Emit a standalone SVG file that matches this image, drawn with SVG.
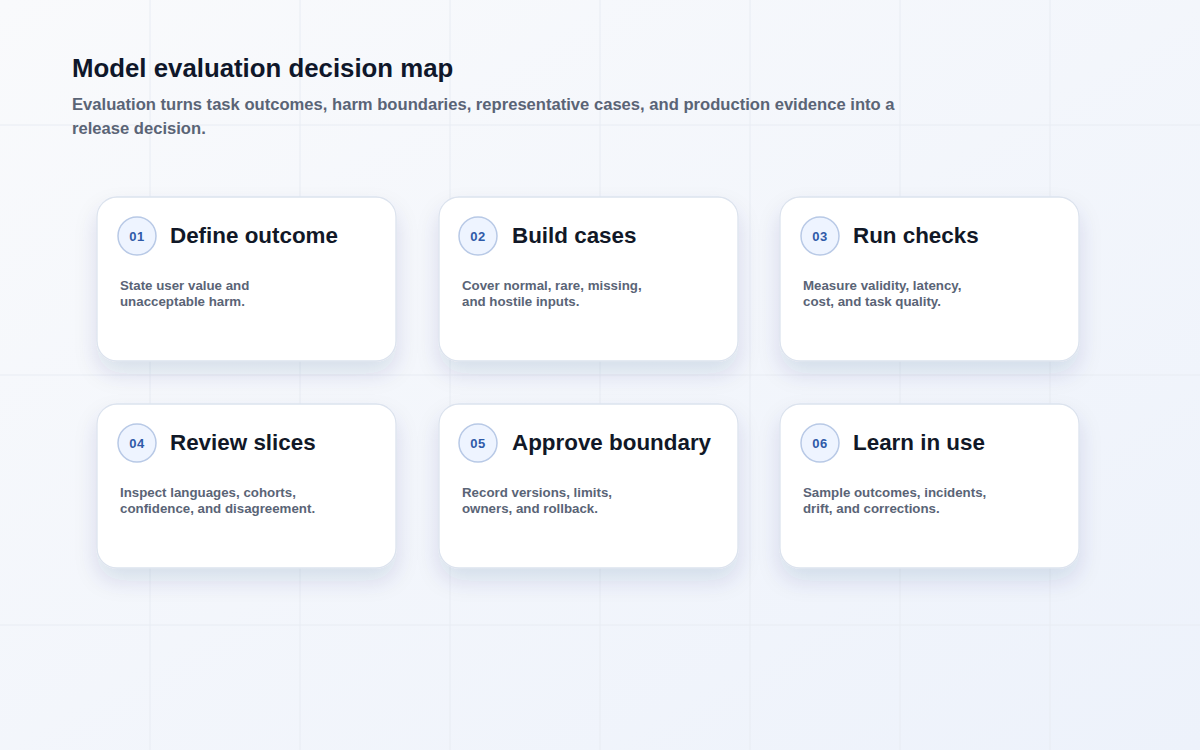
<svg xmlns="http://www.w3.org/2000/svg" width="1200" height="750" viewBox="0 0 1200 750">
  <defs>
    <linearGradient id="bg" x1="0" y1="0" x2="1" y2="1">
      <stop offset="0" stop-color="#f9fafc"/>
      <stop offset="1" stop-color="#edf2fb"/>
    </linearGradient>
    <filter id="shadow" x="-20%" y="-20%" width="140%" height="170%">
      <feDropShadow dx="0" dy="12" stdDeviation="11" flood-color="#1e3a6e" flood-opacity="0.12"/>
    </filter>
    <style>
      .grid { stroke: #e8ecf3; stroke-width: 1; }
      .card { fill: #ffffff; stroke: #dce3ee; stroke-width: 1.3; filter: url(#shadow); }
      .badge { fill: #eef4ff; stroke: #b8c9e6; stroke-width: 1.5; }
      .num { font-family: "Liberation Sans", Arial, sans-serif; font-size: 13px; font-weight: 700; fill: #2f5aa8; text-anchor: middle; letter-spacing: 0.5px; }
      .ttl { font-family: "Liberation Sans", Arial, sans-serif; font-size: 22.4px; font-weight: 700; fill: #111827; }
      .desc { font-family: "Liberation Sans", Arial, sans-serif; font-size: 13.3px; font-weight: 700; fill: #5a6476; }
      .h1 { font-family: "Liberation Sans", Arial, sans-serif; font-size: 25.8px; font-weight: 700; fill: #0f172a; }
      .sub { font-family: "Liberation Sans", Arial, sans-serif; font-size: 16.6px; font-weight: 700; fill: #5a6476; }
    </style>
  </defs>
  <rect width="1200" height="750" fill="url(#bg)"/>
  <g id="grid">
    <line class="grid" x1="150" y1="0" x2="150" y2="750"/>
    <line class="grid" x1="300" y1="0" x2="300" y2="750"/>
    <line class="grid" x1="450" y1="0" x2="450" y2="750"/>
    <line class="grid" x1="600" y1="0" x2="600" y2="750"/>
    <line class="grid" x1="750" y1="0" x2="750" y2="750"/>
    <line class="grid" x1="900" y1="0" x2="900" y2="750"/>
    <line class="grid" x1="1050" y1="0" x2="1050" y2="750"/>
    <line class="grid" x1="0" y1="125" x2="1200" y2="125"/>
    <line class="grid" x1="0" y1="375" x2="1200" y2="375"/>
    <line class="grid" x1="0" y1="625" x2="1200" y2="625"/>
  </g>
  <g id="header">
    <text class="h1" x="72" y="77">Model evaluation decision map</text>
    <text class="sub" x="72" y="110">Evaluation turns task outcomes, harm boundaries, representative cases, and production evidence into a</text>
    <text class="sub" x="72" y="134">release decision.</text>
  </g>
  <g id="connectors"></g>
  <g id="node-01">
    <rect class="card" x="97" y="197" width="299" height="164" rx="20"/>
    <circle class="badge" cx="137" cy="236" r="19"/>
    <text class="num" x="137" y="241">01</text>
    <text class="ttl" x="170" y="243">Define outcome</text>
    <text class="desc" x="120" y="290">State user value and</text>
    <text class="desc" x="120" y="306">unacceptable harm.</text>
  </g>
  <g id="node-02">
    <rect class="card" x="439" y="197" width="299" height="164" rx="20"/>
    <circle class="badge" cx="478" cy="236" r="19"/>
    <text class="num" x="478" y="241">02</text>
    <text class="ttl" x="512" y="243">Build cases</text>
    <text class="desc" x="462" y="290">Cover normal, rare, missing,</text>
    <text class="desc" x="462" y="306">and hostile inputs.</text>
  </g>
  <g id="node-03">
    <rect class="card" x="780" y="197" width="299" height="164" rx="20"/>
    <circle class="badge" cx="820" cy="236" r="19"/>
    <text class="num" x="820" y="241">03</text>
    <text class="ttl" x="853" y="243">Run checks</text>
    <text class="desc" x="803" y="290">Measure validity, latency,</text>
    <text class="desc" x="803" y="306">cost, and task quality.</text>
  </g>
  <g id="node-04">
    <rect class="card" x="97" y="404" width="299" height="164" rx="20"/>
    <circle class="badge" cx="137" cy="443" r="19"/>
    <text class="num" x="137" y="448">04</text>
    <text class="ttl" x="170" y="450">Review slices</text>
    <text class="desc" x="120" y="497">Inspect languages, cohorts,</text>
    <text class="desc" x="120" y="513">confidence, and disagreement.</text>
  </g>
  <g id="node-05">
    <rect class="card" x="439" y="404" width="299" height="164" rx="20"/>
    <circle class="badge" cx="478" cy="443" r="19"/>
    <text class="num" x="478" y="448">05</text>
    <text class="ttl" x="512" y="450">Approve boundary</text>
    <text class="desc" x="462" y="497">Record versions, limits,</text>
    <text class="desc" x="462" y="513">owners, and rollback.</text>
  </g>
  <g id="node-06">
    <rect class="card" x="780" y="404" width="299" height="164" rx="20"/>
    <circle class="badge" cx="820" cy="443" r="19"/>
    <text class="num" x="820" y="448">06</text>
    <text class="ttl" x="853" y="450">Learn in use</text>
    <text class="desc" x="803" y="497">Sample outcomes, incidents,</text>
    <text class="desc" x="803" y="513">drift, and corrections.</text>
  </g>
</svg>
